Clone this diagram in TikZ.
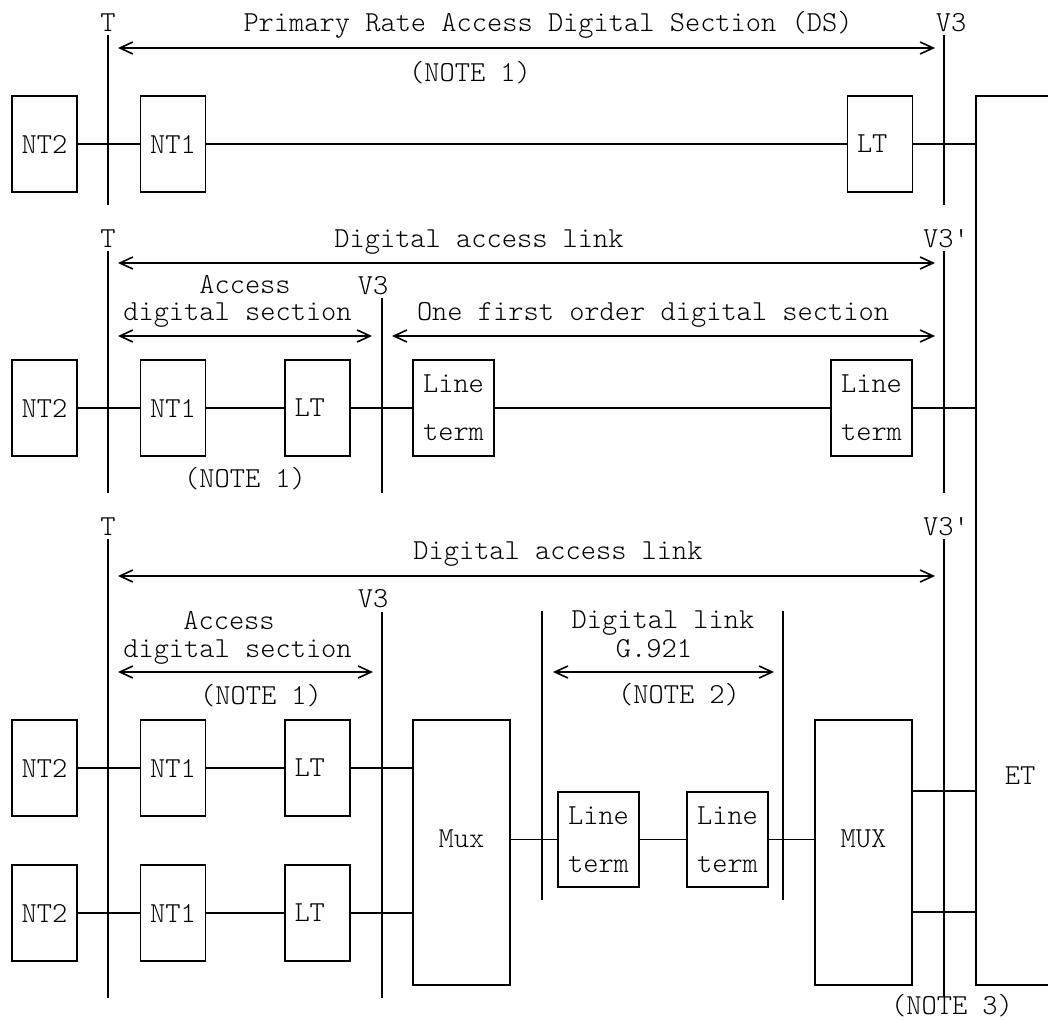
\documentclass[tikz,border=0pt]{standalone}
\usepackage{fontspec}
\newfontfamily\mono{lmmonolt10-regular.otf}
\usetikzlibrary{arrows.meta}

\tikzset{
  txt/.style={font=\mono\fontsize{29pt}{35pt}\selectfont},
  unit/.style={txt, draw, line width=1.8pt, minimum width=65pt, minimum height=96pt, inner sep=0pt},
  ltbox/.style={unit, text width=46pt, align=left},
  termbox/.style={unit, minimum width=81pt, align=center, font=\mono\fontsize{29pt}{48pt}\selectfont},
  muxbox/.style={unit, minimum width=97pt, minimum height=265pt, text depth=28pt},
  lbl/.style={txt, inner sep=0pt, anchor=base},
  refline/.style={line width=1.8pt},
  wire/.style={line width=1.8pt},
  span/.style={line width=1.6pt, <->, >={Straight Barb[length=13pt,width=12pt]}},
}

\begin{document}
\begin{tikzpicture}[x=1pt,y=-1pt]
\useasboundingbox (0,0) rectangle (1048,1019);

% ET (lado direito aberto)
\node[draw, line width=1.8pt, minimum width=84pt, minimum height=889pt, inner sep=0pt] (et) at (1018,540.5) {};
\node[lbl] (etlbl) at (1020,784) {ET};

% Primeira configuracao
\draw[refline] (108,35) -- (108,205);
\draw[refline] (944,35) -- (944,205);
\node[lbl] (tp) at (108,32) {T};
\node[lbl] (v3p) at (951,32) {V3};
\node[lbl] (dsp) at (548,32) {Primary Rate Access Digital Section (DS)};
\node[lbl] (notep) at (470,82) {(NOTE 1)};
\coordinate (dsl) at (118,48);
\coordinate (dsr) at (935,48);
\draw[span] (dsl) -- (dsr);

\node[unit] (nt2p) at (44.5,144) {NT2};
\node[unit] (nt1p) at (173,144) {NT1};
\node[ltbox] (ltp) at (880,144) {LT};
\draw[wire] (nt2p.east) -- (nt1p.west);
\draw[wire] (nt1p.east) -- (ltp.west);
\draw[wire] (ltp.east) -- (ltp.east -| et.west);

% Segunda configuracao
\draw[refline] (108,251) -- (108,493);
\draw[refline] (382,298) -- (382,493);
\draw[refline] (944,251) -- (944,493);
\node[lbl] (ts) at (108,247) {T};
\node[lbl] (v3s) at (373,294) {V3};
\node[lbl] (v3ps) at (946,247) {V3'};
\node[lbl] (dals) at (479,247) {Digital access link};
\node[lbl] (acs) at (245,293) {Access};
\node[lbl] (dss) at (237.5,320) {digital section};
\node[lbl] (fos) at (653,320) {One first order digital section};
\node[lbl] (notes) at (245,487) {(NOTE 1)};
\coordinate (dall) at (118,263);
\coordinate (dalr) at (935,263);
\coordinate (adsl) at (118,336);
\coordinate (adsr) at (372,336);
\coordinate (fol) at (392,336);
\coordinate (for) at (935,336);
\draw[span] (dall) -- (dalr);
\draw[span] (adsl) -- (adsr);
\draw[span] (fol) -- (for);

\node[unit] (nt2s) at (44.5,408) {NT2};
\node[unit] (nt1s) at (173,408) {NT1};
\node[ltbox] (lts) at (317.5,408) {LT};
\node[termbox] (terma) at (453.5,408) {Line\\term};
\node[termbox] (termb) at (871.5,408) {Line\\term};
\draw[wire] (nt2s.east) -- (nt1s.west);
\draw[wire] (nt1s.east) -- (lts.west);
\draw[wire] (lts.east) -- (terma.west);
\draw[wire] (terma.east) -- (termb.west);
\draw[wire] (termb.east) -- (termb.east -| et.west);

% Terceira configuracao
\draw[refline] (108,539) -- (108,998);
\draw[refline] (382,612) -- (382,998);
\draw[refline] (542,611) -- (542,900);
\draw[refline] (783,611) -- (783,900);
\draw[refline] (944,539) -- (944,997);
\node[lbl] (tt) at (108,535) {T};
\node[lbl] (v3t) at (373,607) {V3};
\node[lbl] (v3pt) at (946,535) {V3'};
\node[lbl] (dalt) at (558,559) {Digital access link};
\node[lbl] (act) at (229,629) {Access};
\node[lbl] (dst) at (237.5,657) {digital section};
\node[lbl] (notet) at (261,704) {(NOTE 1)};
\node[lbl] (dlt) at (663,628) {Digital link};
\node[lbl] (gt) at (654,657) {G.921};
\node[lbl] (note2) at (679,703) {(NOTE 2)};
\node[lbl] (note3) at (952,1014) {(NOTE 3)};
\coordinate (dal3l) at (118,576);
\coordinate (dal3r) at (935,576);
\coordinate (ads3l) at (118,672);
\coordinate (ads3r) at (373,672);
\coordinate (dll) at (553,672);
\coordinate (dlr) at (774,672);
\draw[span] (dal3l) -- (dal3r);
\draw[span] (ads3l) -- (ads3r);
\draw[span] (dll) -- (dlr);

\node[muxbox] (mux) at (461.5,852.5) {Mux};
\node[muxbox] (muxr) at (863.5,852.5) {MUX};
\foreach \y/\n in {768/a,913/b} {
  \node[unit] (nt2\n) at (44.5,\y) {NT2};
  \node[unit] (nt1\n) at (173,\y) {NT1};
  \node[ltbox] (lt\n) at (317.5,\y) {LT};
  \draw[wire] (nt2\n.east) -- (nt1\n.west);
  \draw[wire] (nt1\n.east) -- (lt\n.west);
  \draw[wire] (lt\n.east) -- (lt\n.east -| mux.west);
}
\node[termbox, minimum height=95pt] (termc) at (598.5,839.5) {Line\\term};
\node[termbox, minimum height=95pt] (termd) at (727.5,839.5) {Line\\term};
\draw[wire] (mux.east |- termc.west) -- (termc.west);
\draw[wire] (termc.east) -- (termd.west);
\draw[wire] (termd.east) -- (termd.east -| muxr.west);
\draw[wire] ([yshift=-72pt]muxr.north east) -- ([yshift=-72pt]muxr.north east -| et.west);
\draw[wire] ([yshift=-193pt]muxr.north east) -- ([yshift=-193pt]muxr.north east -| et.west);

\end{tikzpicture}
\end{document}
